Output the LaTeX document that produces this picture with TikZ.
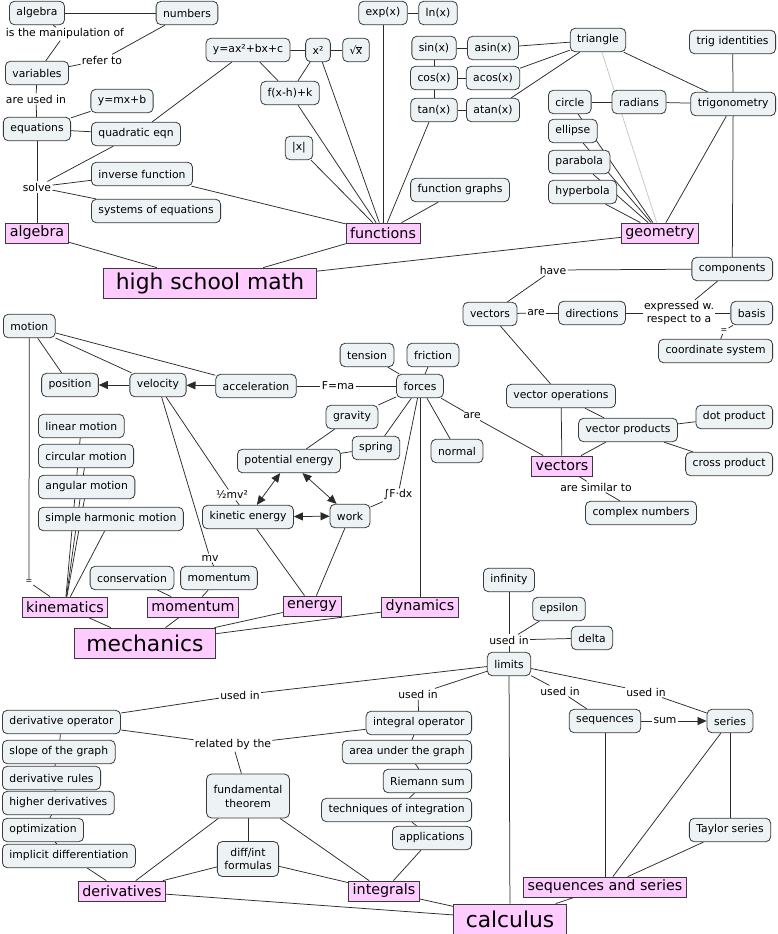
\documentclass[tikz,border=0pt]{standalone}
\usepackage{fontspec}
\setmainfont{DejaVu Sans}
\usetikzlibrary{arrows.meta}
\definecolor{nodeC}{HTML}{EDF3F5}
\definecolor{pinkC}{HTML}{FFCCFF}
\definecolor{bordC}{HTML}{3A3A3A}
\definecolor{lineC}{HTML}{2B2B2B}
\newcommand{\fsS}{\fontsize{10.8}{12.5}\selectfont}
\newcommand{\fsT}{\fontsize{8}{9}\selectfont}
\newcommand{\fsP}{\fontsize{14.3}{16}\selectfont}
\newcommand{\fsB}{\fontsize{21.8}{24}\selectfont}
\pgfdeclarelayer{back}
\pgfdeclarelayer{edges}
\pgfsetlayers{back,edges,main}
\begin{document}
\begin{tikzpicture}[x=1pt,y=-1pt,
 cn/.style={draw=bordC, fill=nodeC, rounded corners=5pt, line width=0.8pt, inner xsep=7pt, inner ysep=1pt, minimum height=23.5pt, font=\fsS},
 pk/.style={draw=bordC, fill=pinkC, line width=0.8pt, inner xsep=4pt, inner ysep=1pt, minimum height=20pt, font=\fsP},
 bigp/.style={pk, inner xsep=12pt, minimum height=30pt, font=\fsB},
 lk/.style={inner sep=1.2pt, font=\fsS},
 lkt/.style={inner sep=1pt, font=\fsT},
 ln/.style={draw=lineC, line width=0.75pt},
 ar/.style={ln, -{Triangle[length=9pt,width=8pt]}},
 dar/.style={ln, {Triangle[length=9pt,width=8pt]}-{Triangle[length=9pt,width=8pt]}},
]
\useasboundingbox (0,0) rectangle (778,934);
\begin{pgfonlayer}{back}
\fill[white] (0,0) rectangle (778,934);
\end{pgfonlayer}

% ---------------- algebra
\node[cn] (alg) at (37,13) {algebra};
\node[cn] (num) at (187,13) {numbers};
\node[lk] (lmanip) at (65,34) {is the manipulation of};
\node[cn] (var) at (37,73) {variables};
\node[lk] (lrefer) at (102,60) {refer to};
\node[lk] (lused) at (36,99) {are used in};
\node[cn] (ymx) at (122,101) {y=mx+b};
\node[cn] (eqn) at (37,129) {equations};
\node[cn] (quad) at (136,134) {quadratic eqn};
\node[lk] (lsolve) at (37,187) {solve};
\node[cn,anchor=west] (inv) at (91,174) {inverse function};
\node[cn,anchor=west] (sys) at (91,211) {systems of equations};
\node[pk] (algP) at (37,233) {algebra};
\node[bigp] (hsm) at (210,283) {high school math};

% ---------------- functions
\node[cn] (yax) at (248,50) {y=ax²+bx+c};
\node[cn] (xsq) at (318,50) {x²};
\node[cn] (sqrt) at (356,50) {√\kern-0.6pt$\overline{\hbox{x}}$};
\node[cn] (fxh) at (290,93) {f(x-h)+k};
\node[cn] (absx) at (299,148) {|x|};
\node[cn] (exp) at (383,13) {exp(x)};
\node[cn] (lnx) at (438,13) {ln(x)};
\node[cn] (sin) at (434,48) {sin(x)};
\node[cn] (asin) at (493,48) {asin(x)};
\node[cn] (cos) at (434,78) {cos(x)};
\node[cn] (acos) at (493,78) {acos(x)};
\node[cn] (tan) at (434,110) {tan(x)};
\node[cn] (atan) at (493,110) {atan(x)};
\node[cn] (fg) at (460,190) {function graphs};
\node[pk] (fun) at (383,233) {functions};

% ---------------- geometry
\node[cn] (tri) at (598,40) {triangle};
\node[cn,anchor=east] (tid) at (776,42) {trig identities};
\node[cn,anchor=west] (circ) at (548,102) {circle};
\node[cn] (rad) at (639,102) {radians};
\node[cn,anchor=east] (trig) at (776,104) {trigonometry};
\node[cn,anchor=west] (ell) at (548,131) {ellipse};
\node[cn,anchor=west] (par) at (548,162) {parabola};
\node[cn,anchor=west] (hyp) at (548,192) {hyperbola};
\node[pk] (geo) at (660,233) {geometry};

% ---------------- vectors
\node[cn,anchor=east] (comp) at (773,269) {components};
\node[lk] (lhave) at (553,270) {have};
\node[cn] (vec) at (490,314) {vectors};
\node[lk] (lare) at (536,313) {are};
\node[cn] (dir) at (592,313) {directions};
\node[lk,align=center,font={\fontsize{10.8}{13}\selectfont}] (lexpr) at (679,313) {expressed w.\\respect to a};
\node[cn,anchor=east] (basis) at (773,313) {basis};
\node[lkt] (leq) at (724,331) {=};
\node[cn,anchor=east] (coord) at (773,351) {coordinate system};
\node[cn] (vop) at (561,396) {vector operations};
\node[cn,anchor=east] (dot) at (773,417) {dot product};
\node[cn] (vprod) at (628,430) {vector products};
\node[cn,anchor=east] (cross) at (773,464) {cross product};
\node[pk] (vecP) at (562,466) {vectors};
\node[lk] (lsim) at (596,487) {are similar to};
\node[cn] (cplx) at (641,513) {complex numbers};
\node[lk] (lare2) at (472,416) {are};

% ---------------- mechanics
\node[cn,anchor=west] (mot) at (3,326) {motion};
\node[cn] (pos) at (70,385) {position};
\node[cn] (vel) at (158,385) {velocity};
\node[cn] (acc) at (256,386) {acceleration};
\node[lk] (lfma) at (338,386) {F=ma};
\node[cn] (forces) at (420,386) {forces};
\node[cn] (tens) at (367,355) {tension};
\node[cn] (fric) at (433,355) {friction};
\node[cn] (grav) at (352,417) {gravity};
\node[cn] (spring) at (376,448) {spring};
\node[cn] (normal) at (457,451) {normal};
\node[cn] (pe) at (289,461) {potential energy};
\node[cn] (ke) at (248,517) {kinetic energy};
\node[cn] (work) at (350,516) {work};
\node[lk] (lhalf) at (232,495) {½mv²};
\node[lk] (lint) at (398,495) {∫F·dx};
\node[lk] (lmv) at (210,558) {mv};
\node[cn,anchor=west] (linm) at (38,426) {linear motion};
\node[cn,anchor=west] (circm) at (38,456) {circular motion};
\node[cn,anchor=west] (angm) at (38,487) {angular motion};
\node[cn,anchor=west] (shm) at (38,519) {simple harmonic motion};
\node[lkt] (leq2) at (29,582) {=};
\node[cn] (cons) at (132,578) {conservation};
\node[cn] (mom) at (219,578) {momentum};
\node[pk] (kinP) at (65,607) {kinematics};
\node[pk] (momP) at (193,607) {momentum};
\node[pk] (enP) at (312,606) {energy};
\node[pk] (dynP) at (420,607) {dynamics};
\node[bigp] (mech) at (145,643) {mechanics};

% ---------------- calculus
\node[cn] (inf) at (509,580) {infinity};
\node[cn] (eps) at (559,609) {epsilon};
\node[cn] (delta) at (592,638) {delta};
\node[lk] (lusedA) at (509,640) {used in};
\node[cn] (lim) at (509,664) {limits};
\node[lk] (lusedL) at (240,695) {used in};
\node[lk] (lusedM) at (418,694) {used in};
\node[lk] (lusedS) at (560,691) {used in};
\node[lk] (lusedR) at (646,692) {used in};
\node[cn] (seq) at (605,721) {sequences};
\node[lk] (lsum) at (665,721) {sum};
\node[cn] (ser) at (730,721) {series};
\node[cn] (tay) at (730,830) {Taylor series};
\node[pk] (ssP) at (605,887) {sequences and series};
\node[cn,anchor=west] (dop) at (2,722) {derivative operator};
\node[cn,anchor=west] (slope) at (2,752) {slope of the graph};
\node[cn,anchor=west] (drul) at (2,778) {derivative rules};
\node[cn,anchor=west] (hder) at (2,803) {higher derivatives};
\node[cn,anchor=west] (opt) at (2,830) {optimization};
\node[cn,anchor=west] (impl) at (2,856) {implicit differentiation};
\node[pk] (derP) at (122,891) {derivatives};
\node[lk] (lrel) at (233,745) {related by the};
\node[cn,align=center,minimum height=44pt,font={\fontsize{10.8}{14}\selectfont}] (fth) at (248,796) {fundamental\\theorem};
\node[cn,align=center,minimum height=35pt,font={\fontsize{10.8}{12.5}\selectfont}] (dif) at (248,859) {diff/int\\formulas};
\node[cn,anchor=east] (iop) at (472,723) {integral operator};
\node[cn,anchor=east] (area) at (472,752) {area under the graph};
\node[cn,anchor=east] (riem) at (472,781) {Riemann sum};
\node[cn,anchor=east] (tech) at (472,810) {techniques of integration};
\node[cn,anchor=east] (appl) at (472,838) {applications};
\node[pk] (intP) at (384,891) {integrals};
\node[bigp] (calc) at (510,919) {calculus};

% ================= edges
\begin{pgfonlayer}{edges}
% algebra
\draw[ln] (alg) -- (num);
\draw[ln] (alg) -- (lmanip);
\draw[ln] (lmanip) -- (var);
\draw[ln] (num) -- (lrefer);
\draw[ln] (lrefer) -- (var);
\draw[ln] (var) -- (lused);
\draw[ln] (lused) -- (eqn);
\draw[ln] (eqn) -- (ymx);
\draw[ln] (eqn) -- (quad);
\draw[ln] (quad) -- (yax);
\draw[ln] (eqn) -- (lsolve);
\draw[ln] (lsolve) -- (algP);
\draw[ln] (lsolve) -- (quad);
\draw[ln] (lsolve) -- (inv);
\draw[ln] (lsolve) -- (sys);
\draw[ln] (inv) -- (fun);
\draw[ln] (algP) -- (hsm);
\draw[ln] (fun) -- (hsm);
\draw[ln] (geo) -- (hsm);
% functions
\draw[ln] (yax) -- (xsq);
\draw[ln] (xsq) -- (sqrt);
\draw[ln] (yax) -- (fxh);
\draw[ln] (xsq) -- (fxh);
\draw[ln] (fxh) -- (fun);
\draw[ln] (xsq) -- (fun);
\draw[ln] (absx) -- (fun);
\draw[ln] (exp) -- (fun);
\draw[ln] (exp) -- (lnx);
\draw[ln] (tan) -- (fun);
\draw[ln] (fg) -- (fun);
\draw[ln] (sin) -- (asin);
\draw[ln] (cos) -- (acos);
\draw[ln] (tan) -- (atan);
\draw[ln] (sin) -- (cos);
\draw[ln] (cos) -- (tan);
\draw[ln] (asin) -- (tri);
\draw[ln] (acos) -- (tri);
\draw[ln] (atan) -- (tri);
% geometry
\draw[ln] (tri) -- (trig);
\draw[line width=0.75pt, draw=black!22] (tri) -- (geo);
\draw[ln] (circ) -- (rad);
\draw[ln] (rad) -- (trig);
\draw[ln] (tid) -- (trig);
\draw[ln] (trig) -- (geo);
\draw[ln] (trig) -- (comp);
\draw[ln] (circ) -- (geo);
\draw[ln] (ell) -- (geo);
\draw[ln] (par) -- (geo);
\draw[ln] (hyp) -- (geo);
% vectors
\draw[ln] (comp) -- (lhave);
\draw[ln] (lhave) -- (vec);
\draw[ln] (comp) -- (lexpr);
\draw[ln] (dir) -- (lexpr);
\draw[ln] (lexpr) -- (basis);
\draw[ln] (basis) -- (leq);
\draw[ln] (leq) -- (coord);
\draw[ln] (vec) -- (lare);
\draw[ln] (lare) -- (dir);
\draw[ln] (vec) -- (vop);
\draw[ln] (vop) -- (vecP);
\draw[ln] (vop) -- (vprod);
\draw[ln] (vprod) -- (dot);
\draw[ln] (vprod) -- (cross);
\draw[ln] (vprod) -- (vecP);
\draw[ln] (vecP) -- (lsim);
\draw[ln] (lsim) -- (cplx);
\draw[ln] (forces) -- (lare2);
\draw[ln] (lare2) -- (vecP);
% mechanics
\draw[ln] (mot) -- (pos);
\draw[ln] (mot) -- (vel);
\draw[ln] (mot) -- (acc);
\draw[ln] (mot) -- (leq2);
\draw[ln] (leq2) -- (kinP);
\draw[ar] (vel) -- (pos);
\draw[ar] (acc) -- (vel);
\draw[ln] (acc) -- (lfma);
\draw[ln] (lfma) -- (forces);
\draw[ln] (forces) -- (tens);
\draw[ln] (forces) -- (fric);
\draw[ln] (forces) -- (grav);
\draw[ln] (forces) -- (spring);
\draw[ln] (forces) -- (normal);
\draw[ln] (forces) -- (lint);
\draw[ln] (lint) -- (work);
\draw[ln] (forces) -- (dynP);
\draw[ln] (grav) -- (pe);
\draw[ln] (spring) -- (pe);
\draw[dar] (pe) -- (ke);
\draw[dar] (pe) -- (work);
\draw[dar] (ke) -- (work);
\draw[ln] (vel) -- (lhalf);
\draw[ln] (lhalf) -- (ke);
\draw[ln] (vel) -- (lmv);
\draw[ln] (lmv) -- (mom);
\draw[ln] (ke) -- (enP);
\draw[ln] (work) -- (enP);
\draw[ln] (linm) -- (kinP);
\draw[ln] (circm) -- (kinP);
\draw[ln] (angm) -- (kinP);
\draw[ln] (shm) -- (kinP);
\draw[ln] (cons) -- (momP);
\draw[ln] (mom) -- (momP);
\draw[ln] (kinP) -- (mech);
\draw[ln] (momP) -- (mech);
\draw[ln] (enP) -- (mech);
\draw[ln] (dynP) -- (mech);
% calculus
\draw[ln] (inf) -- (lusedA);
\draw[ln] (lusedA) -- (lim);
\draw[ln] (eps) -- (lusedA);
\draw[ln] (delta) -- (lusedA);
\draw[ln] (lim) -- (calc);
\draw[ln] (lim) -- (lusedL);
\draw[ln] (lusedL) -- (dop);
\draw[ln] (lim) -- (lusedM);
\draw[ln] (lusedM) -- (iop);
\draw[ln] (lim) -- (lusedS);
\draw[ln] (lusedS) -- (seq);
\draw[ln] (lim) -- (lusedR);
\draw[ln] (lusedR) -- (ser);
\draw[ln] (seq) -- (lsum);
\draw[ar] (lsum) -- (ser);
\draw[ln] (seq) -- (ssP);
\draw[ln] (ser) -- (ssP);
\draw[ln] (ser) -- (tay);
\draw[ln] (tay) -- (ssP);
\draw[ln] (ssP) -- (calc);
\draw[ln] (dop) -- (lrel);
\draw[ln] (lrel) -- (iop);
\draw[ln] (lrel) -- (fth);
\draw[ln] (fth) -- (derP);
\draw[ln] (fth) -- (intP);
\draw[ln] (fth) -- (dif);
\draw[ln] (dif) -- (derP);
\draw[ln] (dif) -- (intP);
\draw[ln] (derP) -- (calc);
\draw[ln] (intP) -- (calc);
\draw[ln] (dop) -- (slope);
\draw[ln] (slope) -- (drul);
\draw[ln] (drul) -- (hder);
\draw[ln] (hder) -- (opt);
\draw[ln] (opt) -- (impl);
\draw[ln] (impl) -- (derP);
\draw[ln] (iop) -- (area);
\draw[ln] (area) -- (riem);
\draw[ln] (riem) -- (tech);
\draw[ln] (tech) -- (appl);
\draw[ln] (appl) -- (intP);
\end{pgfonlayer}
\end{tikzpicture}
\end{document}
